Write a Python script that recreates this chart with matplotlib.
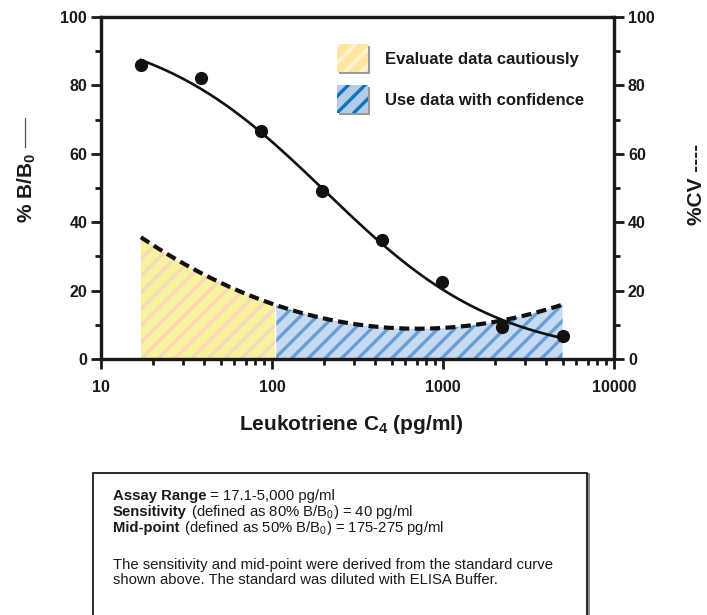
import matplotlib
matplotlib.use("Agg")
import matplotlib.pyplot as plt
import numpy as np
from matplotlib.lines import Line2D
from matplotlib.patches import Rectangle
from matplotlib.ticker import LogLocator, MultipleLocator, NullFormatter

# Standards (pg/ml) and read-off responses
CONC = [17.1, 38.5, 86.7, 195, 439, 988, 2222, 5000]
B_B0 = [86.0, 82.2, 66.7, 49.1, 34.8, 22.5, 9.4, 6.7]
CV = [35.5, 25.5, 16.8, 12.0, 9.5, 9.2, 11.0, 16.0]

# 4-parameter logistic fit parameters for the standard curve
FIT_TOP, FIT_BOTTOM, FIT_MID, FIT_SLOPE = 98.0, 0.0, 205.0, 0.85
CONFIDENT_FROM = 105.0

XTICKS = [10, 100, 1000, 10000]
YTICKS = [0, 20, 40, 60, 80, 100]
LEGEND_LABELS = ["Evaluate data cautiously", "Use data with confidence"]
INFO_LINES = [
    ("Assay Range", " = 17.1-5,000 pg/ml"),
    ("Sensitivity", r" (defined as 80% B/B$_0$) = 40 pg/ml"),
    ("Mid-point", r" (defined as 50% B/B$_0$) = 175-275 pg/ml"),
    ("", "The sensitivity and mid-point were derived from the standard curve"),
    ("", "shown above. The standard was diluted with ELISA Buffer."),
]

plt.rcParams.update({
    "font.family": "Liberation Sans",
    "mathtext.fontset": "custom",
    "mathtext.rm": "Liberation Sans",
    "mathtext.it": "Liberation Sans:italic",
    "mathtext.bf": "Liberation Sans:bold",
    "hatch.linewidth": 2.4,
})
INK = "#1a1a1a"

W, H = 707, 615
fig = plt.figure(figsize=(W / 100, H / 100), dpi=100)
ax = fig.add_axes([0.1429, 0.4163, 0.7256, 0.5561])
ax2 = ax.twinx()

ax.set_xscale("log")
ax.set_xlim(10, 10000)
ax.set_ylim(0, 100)
ax2.set_ylim(0, 100)

# CV curve: cubic fit in log concentration
logc = np.log10(CONC)
cv_poly = np.polyfit(logc, CV, 3)
xs = np.logspace(np.log10(CONC[0]), np.log10(CONC[-1]), 300)
cv_s = np.polyval(cv_poly, np.log10(xs))

low = xs <= CONFIDENT_FROM
high = xs >= CONFIDENT_FROM
ax.fill_between(xs[low], 0, cv_s[low], facecolor="#F8F29E", edgecolor="#F8D8BC",
                hatch="//", linewidth=0, zorder=1)
ax.fill_between(xs[high], 0, cv_s[high], facecolor="#C6DBF1", edgecolor="#6A9CD5",
                hatch="//", linewidth=0, zorder=1)
ax.plot(xs, cv_s, color="#111111", lw=3.0, linestyle=(0, (2.4, 1.3)), zorder=3)

# Standard curve
fit = FIT_BOTTOM + (FIT_TOP - FIT_BOTTOM) / (1 + (xs / FIT_MID) ** FIT_SLOPE)
ax.plot(xs, fit, color="#111111", lw=1.9, zorder=4)
ax.plot(CONC, B_B0, "o", color="#111111", markersize=8.5, zorder=5, clip_on=False)

# Axes styling
for a in (ax, ax2):
    for s in a.spines.values():
        s.set_linewidth(2.3)
        s.set_color(INK)
ax.set_xticks(XTICKS, [str(t) for t in XTICKS])
ax.xaxis.set_minor_locator(LogLocator(base=10, subs=np.arange(2, 10)))
ax.xaxis.set_minor_formatter(NullFormatter())
ax.set_yticks(YTICKS)
ax.yaxis.set_minor_locator(MultipleLocator(10))
ax2.set_yticks(YTICKS)
ax2.yaxis.set_minor_locator(MultipleLocator(10))
for a in (ax, ax2):
    a.tick_params(which="major", length=7, width=2.0, labelsize=11.5, color=INK, pad=3)
    a.tick_params(which="minor", length=4.5, width=2.0, color=INK)
    for lab in a.get_xticklabels() + a.get_yticklabels():
        lab.set_fontweight("bold")
        lab.set_color(INK)
ax.tick_params(axis="x", which="major", pad=8)

# Axis titles placed in figure pixels
fig.text(351 / W, 1 - 425 / H, r"Leukotriene C$_\mathbf{4}$ (pg/ml)", fontsize=15,
         fontweight="bold", ha="center", va="center", color=INK)
fig.text(27 / W, 1 - 188 / H, r"% B/B$_\mathbf{0}$", rotation=90, fontsize=15,
         fontweight="bold", ha="center", va="center", color=INK)
fig.add_artist(Line2D([25 / W, 25 / W], [1 - 147 / H, 1 - 118 / H],
                      color="#555555", lw=0.9, transform=fig.transFigure))
fig.text(696 / W, 1 - 184 / H, "%CV ----", rotation=90, fontsize=15,
         fontweight="bold", ha="center", va="center", color=INK)

# Legend swatches with drop shadows
swatches = [("#FFE6A0", "#FFF3D4"), ("#B5CCE9", "#0B74C1")]
ys = [0.839, 0.719]
for (face, hatch_col), y0, label in zip(swatches, ys, LEGEND_LABELS):
    ax.add_patch(Rectangle((0.464, y0 - 0.007), 0.060, 0.082, transform=ax.transAxes,
                           facecolor="#9a9a9a", edgecolor="none", zorder=6))
    ax.add_patch(Rectangle((0.460, y0), 0.060, 0.082, transform=ax.transAxes,
                           facecolor=face, edgecolor=hatch_col, hatch="//",
                           linewidth=0, zorder=7))
    ax.text(0.554, y0 + 0.037, label, transform=ax.transAxes, fontsize=12,
            fontweight="bold", va="center", ha="left", color=INK, zorder=8)

# Info box with shadow on the right
fig.patches.append(Rectangle((93 / W + 0.0045, -0.05), 494 / W, 0.281,
                             transform=fig.transFigure, facecolor="#8a8a8a",
                             edgecolor="none"))
fig.patches.append(Rectangle((93 / W, -0.05), 494 / W, 0.281, transform=fig.transFigure,
                             facecolor="white", edgecolor=INK, linewidth=1.3))

renderer = fig.canvas.get_renderer()
baselines = [500, 516, 532, 569, 584]
x0 = 113 / W
for (bold, rest), yp in zip(INFO_LINES, baselines):
    y = 1 - yp / H
    xcur = x0
    if bold:
        t = fig.text(xcur, y, bold, fontsize=10.7, fontweight="bold", va="baseline",
                     color=INK)
        xcur = t.get_window_extent(renderer).x1 / fig.bbox.width
    fig.text(xcur, y, rest, fontsize=10.7, va="baseline", color=INK)

fig.savefig("out.png", dpi=100, facecolor="white")
